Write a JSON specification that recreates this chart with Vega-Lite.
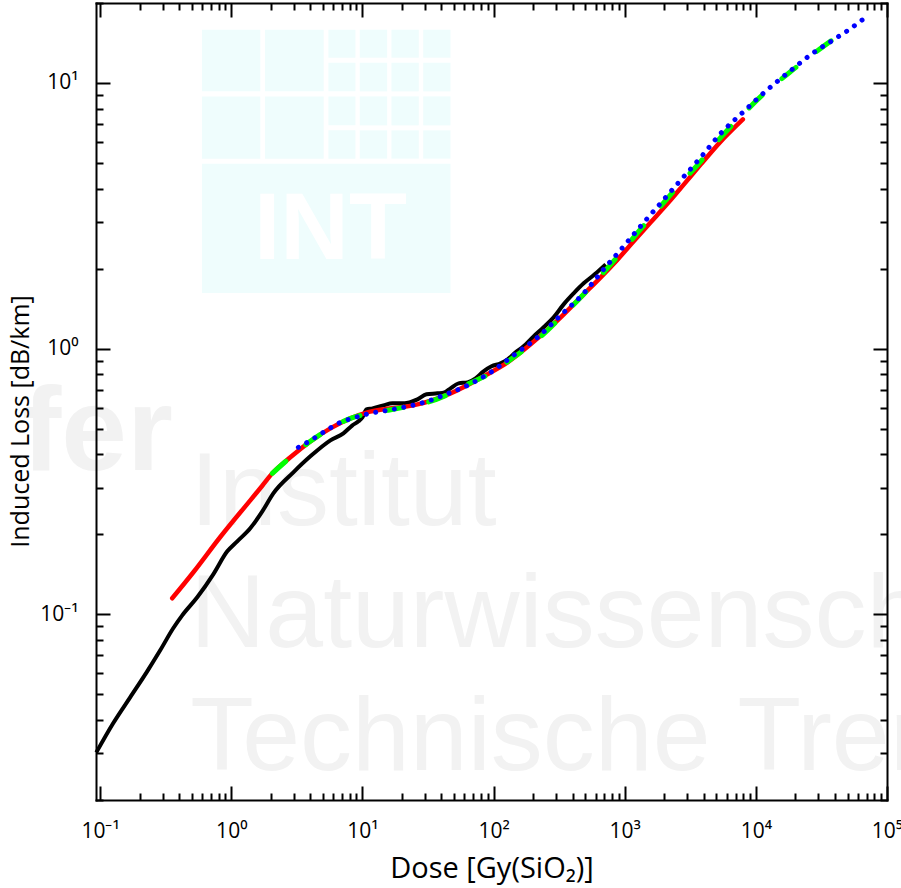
{
  "$schema": "https://vega.github.io/schema/vega-lite/v6.json",
  "autosize": "none",
  "width": 791,
  "height": 797,
  "padding": {"left": 96, "top": 3, "right": 14, "bottom": 88},
  "background": "white",
  "config": {
    "view": {"stroke": null},
    "axis": {
      "grid": false,
      "domainColor": "black",
      "domainWidth": 2,
      "domainCap": "square",
      "tickColor": "black",
      "tickWidth": 2,
      "labelFont": "Open Sans",
      "labelFontSize": 21,
      "labelColor": "black",
      "labelFlush": false,
      "labelOverlap": false,
      "labelBound": false,
      "titleFont": "Open Sans",
      "titleFontWeight": "normal",
      "titleColor": "black"
    }
  },
  "datasets": {
    "logo": [
      {"d1": 0.5975, "d2": 1.665, "l1": 9.298, "l2": 15.87},
      {"d1": 1.808, "d2": 5.065, "l1": 9.298, "l2": 15.87},
      {"d1": 0.5975, "d2": 1.665, "l1": 5.19, "l2": 8.903},
      {"d1": 1.808, "d2": 5.065, "l1": 5.19, "l2": 8.903},
      {"d1": 5.502, "d2": 8.843, "l1": 12.45, "l2": 15.87},
      {"d1": 9.537, "d2": 15.44, "l1": 12.45, "l2": 15.87},
      {"d1": 16.65, "d2": 26.9, "l1": 12.45, "l2": 15.87},
      {"d1": 29.07, "d2": 46.97, "l1": 12.45, "l2": 15.87},
      {"d1": 5.502, "d2": 8.843, "l1": 9.298, "l2": 11.92},
      {"d1": 9.537, "d2": 15.44, "l1": 9.298, "l2": 11.92},
      {"d1": 16.65, "d2": 26.9, "l1": 9.298, "l2": 11.92},
      {"d1": 29.07, "d2": 46.97, "l1": 9.298, "l2": 11.92},
      {"d1": 5.502, "d2": 8.843, "l1": 6.925, "l2": 8.903},
      {"d1": 9.537, "d2": 15.44, "l1": 6.925, "l2": 8.903},
      {"d1": 16.65, "d2": 26.9, "l1": 6.925, "l2": 8.903},
      {"d1": 29.07, "d2": 46.97, "l1": 6.925, "l2": 8.903},
      {"d1": 5.502, "d2": 8.843, "l1": 5.19, "l2": 6.632},
      {"d1": 9.537, "d2": 15.44, "l1": 5.19, "l2": 6.632},
      {"d1": 16.65, "d2": 26.9, "l1": 5.19, "l2": 6.632},
      {"d1": 29.07, "d2": 46.97, "l1": 5.19, "l2": 6.632},
      {"d1": 0.5975, "d2": 46.97, "l1": 1.619, "l2": 4.97}
    ],
    "logotext": [
      {"dose": 5.7, "loss": 2.18, "text": "INT"}
    ],
    "watermark": [
      {"dose": 0.486, "loss": 0.2163, "text": "Institut"},
      {"dose": 0.486, "loss": 0.0751, "text": "Naturwissensch"},
      {"dose": 0.486, "loss": 0.02588, "text": "Technische Tren"}
    ],
    "watermark2": [
      {"dose": 0.02538, "loss": 0.348, "text": "fer"}
    ],
    "measured": [
      {"dose": 0.0935, "loss": 0.0302},
      {"dose": 0.1257, "loss": 0.0389},
      {"dose": 0.1694, "loss": 0.0487},
      {"dose": 0.2285, "loss": 0.061},
      {"dose": 0.2871, "loss": 0.0732},
      {"dose": 0.3607, "loss": 0.0886},
      {"dose": 0.4226, "loss": 0.0991},
      {"dose": 0.55, "loss": 0.1159},
      {"dose": 0.7289, "loss": 0.1414},
      {"dose": 0.9322, "loss": 0.1726},
      {"dose": 1.111, "loss": 0.1883},
      {"dose": 1.396, "loss": 0.2108},
      {"dose": 1.724, "loss": 0.2441},
      {"dose": 2.092, "loss": 0.2854},
      {"dose": 2.974, "loss": 0.3424},
      {"dose": 4.009, "loss": 0.3932},
      {"dose": 5.698, "loss": 0.4517},
      {"dose": 7.161, "loss": 0.48},
      {"dose": 8.389, "loss": 0.5145},
      {"dose": 9.322, "loss": 0.5326},
      {"dose": 10.0, "loss": 0.5514},
      {"dose": 10.73, "loss": 0.5908},
      {"dose": 11.92, "loss": 0.596},
      {"dose": 14.46, "loss": 0.6117},
      {"dose": 16.94, "loss": 0.6224},
      {"dose": 19.5, "loss": 0.6224},
      {"dose": 22.85, "loss": 0.6279},
      {"dose": 26.29, "loss": 0.6444},
      {"dose": 30.8, "loss": 0.673},
      {"dose": 37.36, "loss": 0.6788},
      {"dose": 42.27, "loss": 0.6846},
      {"dose": 46.97, "loss": 0.7088},
      {"dose": 54.06, "loss": 0.7401},
      {"dose": 63.31, "loss": 0.7466},
      {"dose": 72.89, "loss": 0.7731},
      {"dose": 83.89, "loss": 0.8214},
      {"dose": 96.54, "loss": 0.858},
      {"dose": 113.1, "loss": 0.8805},
      {"dose": 127.9, "loss": 0.9115},
      {"dose": 147.2, "loss": 0.9685},
      {"dose": 169.4, "loss": 1.02},
      {"dose": 202, "loss": 1.112},
      {"dose": 240.8, "loss": 1.203},
      {"dose": 287.1, "loss": 1.311},
      {"dose": 342.2, "loss": 1.468},
      {"dose": 408.1, "loss": 1.615},
      {"dose": 486.4, "loss": 1.761},
      {"dose": 590.2, "loss": 1.904},
      {"dose": 716.1, "loss": 2.076}
    ],
    "model": [
      {"dose": 0.3544, "loss": 0.1149},
      {"dose": 0.5157, "loss": 0.1443},
      {"dose": 0.8242, "loss": 0.1954},
      {"dose": 1.396, "loss": 0.2685},
      {"dose": 1.724, "loss": 0.3048},
      {"dose": 2.056, "loss": 0.3394},
      {"dose": 2.821, "loss": 0.3898},
      {"dose": 4.009, "loss": 0.4478},
      {"dose": 5.698, "loss": 0.5012},
      {"dose": 8.098, "loss": 0.5466},
      {"dose": 10.92, "loss": 0.5757},
      {"dose": 14.46, "loss": 0.5908},
      {"dose": 19.5, "loss": 0.6012},
      {"dose": 26.29, "loss": 0.617},
      {"dose": 46.97, "loss": 0.6788},
      {"dose": 83.89, "loss": 0.7865},
      {"dose": 127.9, "loss": 0.888},
      {"dose": 191.6, "loss": 1.038},
      {"dose": 307.9, "loss": 1.278},
      {"dose": 486.4, "loss": 1.601},
      {"dose": 655.9, "loss": 1.855},
      {"dose": 884.4, "loss": 2.168},
      {"dose": 1171, "loss": 2.534},
      {"dose": 1579, "loss": 2.988},
      {"dose": 2129, "loss": 3.523},
      {"dose": 2871, "loss": 4.19},
      {"dose": 3803, "loss": 4.939},
      {"dose": 5405, "loss": 6.028},
      {"dose": 7959, "loss": 7.295}
    ],
    "dataA": [
      {"dose": 2.056, "loss": 0.3394},
      {"dose": 2.821, "loss": 0.3898},
      {"dose": 4.009, "loss": 0.4478},
      {"dose": 5.698, "loss": 0.5012},
      {"dose": 8.098, "loss": 0.5466},
      {"dose": 11.51, "loss": 0.5709},
      {"dose": 15.52, "loss": 0.5859},
      {"dose": 20.56, "loss": 0.6012},
      {"dose": 31.34, "loss": 0.6279},
      {"dose": 46.97, "loss": 0.6788},
      {"dose": 63.31, "loss": 0.7338},
      {"dose": 94.87, "loss": 0.8073},
      {"dose": 142.1, "loss": 0.9274},
      {"dose": 216.7, "loss": 1.084},
      {"dose": 324.7, "loss": 1.311},
      {"dose": 486.4, "loss": 1.601},
      {"dose": 691.3, "loss": 1.937},
      {"dose": 982.7, "loss": 2.364},
      {"dose": 1279, "loss": 2.763},
      {"dose": 1818, "loss": 3.373},
      {"dose": 2584, "loss": 4.118},
      {"dose": 3803, "loss": 5.07},
      {"dose": 5405, "loss": 6.242},
      {"dose": 8099, "loss": 7.684},
      {"dose": 10729, "loss": 8.826},
      {"dose": 13964, "loss": 9.879},
      {"dose": 18503, "loss": 11.06},
      {"dose": 27715, "loss": 12.93},
      {"dose": 43014, "loss": 15.11}
    ],
    "dataB": [
      {"dose": 3.248, "loss": 0.4251},
      {"dose": 3.803, "loss": 0.444},
      {"dose": 5.039, "loss": 0.4842},
      {"dose": 6.559, "loss": 0.5235},
      {"dose": 8.843, "loss": 0.5514},
      {"dose": 11.51, "loss": 0.5709},
      {"dose": 15.52, "loss": 0.5859},
      {"dose": 20.56, "loss": 0.6012},
      {"dose": 31.34, "loss": 0.6334},
      {"dose": 41.52, "loss": 0.6671},
      {"dose": 63.31, "loss": 0.7274},
      {"dose": 94.87, "loss": 0.8144},
      {"dose": 142.1, "loss": 0.9436},
      {"dose": 216.7, "loss": 1.103},
      {"dose": 324.7, "loss": 1.335},
      {"dose": 486.4, "loss": 1.615},
      {"dose": 691.3, "loss": 1.988},
      {"dose": 982.7, "loss": 2.427},
      {"dose": 1279, "loss": 2.836},
      {"dose": 1818, "loss": 3.462},
      {"dose": 2584, "loss": 4.226},
      {"dose": 3803, "loss": 5.248},
      {"dose": 5405, "loss": 6.461},
      {"dose": 8099, "loss": 7.818},
      {"dose": 10729, "loss": 8.903},
      {"dose": 13964, "loss": 9.965},
      {"dose": 18503, "loss": 11.15},
      {"dose": 27715, "loss": 13.04},
      {"dose": 37367, "loss": 14.34},
      {"dose": 50385, "loss": 15.78},
      {"dose": 65590, "loss": 17.35}
    ]
  },
  "resolve": {"axis": {"x": "independent", "y": "independent"}},
  "layer": [
    {
      "data": {"name": "logo"},
      "mark": {"type": "rect", "color": "#effdfd"},
      "encoding": {
        "x": {
          "field": "d1", "type": "quantitative",
          "scale": {"type": "log", "domain": [0.093, 100000], "nice": false, "zero": false},
          "axis": {
            "orient": "bottom",
            "zindex": 1,
            "values": [0.1,0.2,0.3,0.4,0.5,0.6,0.7,0.8,0.9,1,2,3,4,5,6,7,8,9,10,20,30,40,50,60,70,80,90,100,200,300,400,500,600,700,800,900,1000,2000,3000,4000,5000,6000,7000,8000,9000,10000,20000,30000,40000,50000,60000,70000,80000,90000,100000],
            "tickSize": {"expr": "abs(log(datum.value)/LN10 - round(log(datum.value)/LN10)) < 0.001 ? -14 : -7"},
            "labelExpr": "abs(log(datum.value)/LN10 - round(log(datum.value)/LN10)) < 0.001 ? '10' + ['⁻¹','⁰','¹','²','³','⁴','⁵'][round(log(datum.value)/LN10) + 1] : ''",
            "labelPadding": 34,
            "title": "Dose [Gy(SiO₂)]",
            "titleFontSize": 29,
            "titleY": 77,
            "titleBaseline": "alphabetic"
          }
        },
        "x2": {"field": "d2"},
        "y": {
          "field": "l1", "type": "quantitative",
          "scale": {"type": "log", "domain": [0.02, 20], "nice": false, "zero": false},
          "axis": {
            "orient": "left",
            "zindex": 1,
            "values": [0.02,0.03,0.04,0.05,0.06,0.07,0.08,0.09,0.1,0.2,0.3,0.4,0.5,0.6,0.7,0.8,0.9,1,2,3,4,5,6,7,8,9,10,20],
            "tickSize": {"expr": "abs(log(datum.value)/LN10 - round(log(datum.value)/LN10)) < 0.001 ? -14 : -7"},
            "labelExpr": "abs(log(datum.value)/LN10 - round(log(datum.value)/LN10)) < 0.001 ? '10' + ['⁻¹','⁰','¹','²','³','⁴','⁵'][round(log(datum.value)/LN10) + 1] : ''",
            "labelPadding": 32,
            "title": "Induced Loss [dB/km]",
            "titleFontSize": 25,
            "titleX": -68,
            "titleY": 418,
            "titleBaseline": "alphabetic"
          }
        },
        "y2": {"field": "l2"}
      }
    },
    {
      "data": {"name": "logotext"},
      "mark": {"type": "text", "font": "Liberation Sans", "fontWeight": "bold", "fontSize": 95, "color": "white", "align": "center", "baseline": "alphabetic"},
      "encoding": {
        "x": {"field": "dose", "type": "quantitative", "axis": null},
        "y": {"field": "loss", "type": "quantitative", "axis": null},
        "text": {"field": "text"}
      }
    },
    {
      "data": {"name": "watermark"},
      "mark": {"type": "text", "font": "Liberation Sans", "fontSize": 104, "color": "#f2f2f2", "align": "left", "baseline": "alphabetic"},
      "encoding": {
        "x": {"field": "dose", "type": "quantitative", "axis": null},
        "y": {"field": "loss", "type": "quantitative", "axis": null},
        "text": {"field": "text"}
      }
    },
    {
      "data": {"name": "watermark2"},
      "mark": {"type": "text", "font": "Liberation Sans", "fontWeight": "bold", "fontSize": 118, "color": "#f2f2f2", "align": "left", "baseline": "alphabetic"},
      "encoding": {
        "x": {"field": "dose", "type": "quantitative", "axis": null},
        "y": {"field": "loss", "type": "quantitative", "axis": null},
        "text": {"field": "text"}
      }
    },
    {
      "data": {"name": "measured"},
      "mark": {"type": "line", "color": "black", "strokeWidth": 4, "strokeJoin": "round", "interpolate": "monotone"},
      "encoding": {
        "x": {
          "field": "dose", "type": "quantitative",
          "axis": {
            "orient": "top",
            "zindex": 1,
            "values": [0.1,0.2,0.3,0.4,0.5,0.6,0.7,0.8,0.9,1,2,3,4,5,6,7,8,9,10,20,30,40,50,60,70,80,90,100,200,300,400,500,600,700,800,900,1000,2000,3000,4000,5000,6000,7000,8000,9000,10000,20000,30000,40000,50000,60000,70000,80000,90000,100000],
            "tickSize": {"expr": "abs(log(datum.value)/LN10 - round(log(datum.value)/LN10)) < 0.001 ? -14 : -7"},
            "labels": false,
            "title": null
          }
        },
        "y": {
          "field": "loss", "type": "quantitative",
          "axis": {
            "orient": "right",
            "zindex": 1,
            "values": [0.02,0.03,0.04,0.05,0.06,0.07,0.08,0.09,0.1,0.2,0.3,0.4,0.5,0.6,0.7,0.8,0.9,1,2,3,4,5,6,7,8,9,10,20],
            "tickSize": {"expr": "abs(log(datum.value)/LN10 - round(log(datum.value)/LN10)) < 0.001 ? -14 : -7"},
            "labels": false,
            "title": null
          }
        }
      }
    },
    {
      "data": {"name": "model"},
      "mark": {"type": "line", "color": "#ff0000", "strokeWidth": 4.5, "strokeCap": "round", "interpolate": "monotone"},
      "encoding": {
        "x": {"field": "dose", "type": "quantitative", "axis": null},
        "y": {"field": "loss", "type": "quantitative", "axis": null}
      }
    },
    {
      "data": {"name": "dataA"},
      "mark": {"type": "line", "color": "#00ff00", "strokeWidth": 5, "strokeCap": "round", "strokeDash": [18, 26], "interpolate": "monotone"},
      "encoding": {
        "x": {"field": "dose", "type": "quantitative", "axis": null},
        "y": {"field": "loss", "type": "quantitative", "axis": null}
      }
    },
    {
      "data": {"name": "dataB"},
      "mark": {"type": "line", "color": "#0000ff", "strokeWidth": 5, "strokeCap": "round", "strokeDash": [0.01, 9.5], "interpolate": "monotone"},
      "encoding": {
        "x": {"field": "dose", "type": "quantitative", "axis": null},
        "y": {"field": "loss", "type": "quantitative", "axis": null}
      }
    }
  ]
}
